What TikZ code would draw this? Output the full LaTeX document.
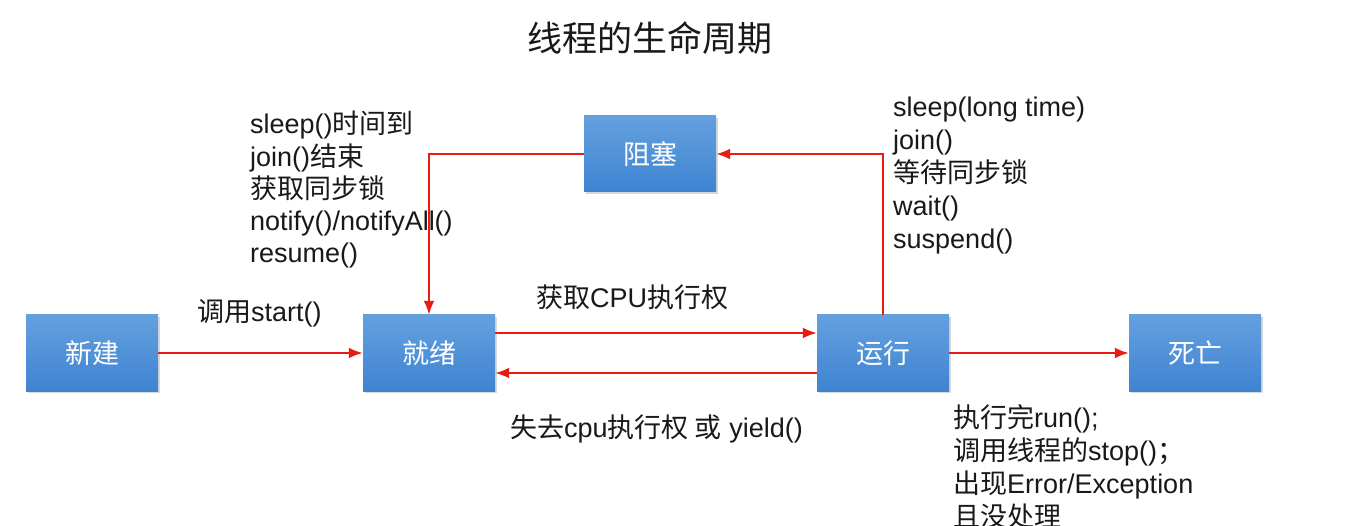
\documentclass[tikz,border=0pt]{standalone}
\usepackage{fontspec}
\setmainfont{Liberation Sans}
\newfontfamily\cjk{Noto Sans CJK SC}
\usetikzlibrary{arrows.meta,shadows}
\newcommand\zh[1]{{\cjk #1}}
\definecolor{boxtop}{RGB}{100,160,222}
\definecolor{boxbot}{RGB}{62,132,210}
\definecolor{arrred}{RGB}{232,28,18}
\definecolor{txt}{RGB}{25,25,25}
\tikzset{
  statebox/.style={rectangle, minimum width=132pt, minimum height=76pt, inner sep=0pt,
    top color=boxtop, bottom color=boxbot, draw=none, text=white,
    font=\cjk\fontsize{27}{30}\selectfont,
    drop shadow={shadow xshift=1.5pt, shadow yshift=-2pt, opacity=0.3}},
  arr/.style={draw=arrred, line width=2.2pt, -{Latex[length=14pt,width=11pt]}},
  lbl/.style={text=txt, inner sep=0pt, font=\fontsize{27}{33}\selectfont},
  block/.style={lbl, align=left, anchor=north west},
}
\begin{document}
\begin{tikzpicture}[x=1pt,y=-1pt]
\useasboundingbox[fill=white] (0,0) rectangle (1356,526);
\node[text=txt, font=\cjk\fontsize{35}{38}\selectfont] (title) at (650,38) {线程的生命周期};

\node[statebox] (new) at (92,353) {新建};
\node[statebox] (ready) at (429,353) {就绪};
\node[statebox] (run) at (883,353) {运行};
\node[statebox] (dead) at (1195,353) {死亡};
\node[statebox] (blk) at (650,154) {阻塞};

\draw[arr] (new) -- (ready);
\draw[arr] ([yshift=20pt]ready.east) -- ([yshift=20pt]run.west);
\draw[arr] ([yshift=-20pt]run.west) -- ([yshift=-20pt]ready.east);
\draw[arr] (run) -- (dead);
\draw[arr] (run.north) |- (blk.east);
\draw[arr] (blk.west) -| (ready.north);

\node[lbl, anchor=west] (lstart) at (197,313) {\zh{调用}start()};
\node[lbl, anchor=west] (lcpu) at (536,297) {\zh{获取}CPU\zh{执行权}};
\node[lbl, anchor=west] (llose) at (510,429) {\zh{失去}cpu\zh{执行权 或} yield()};

\node[block, font=\fontsize{27}{32.3}\selectfont] (lwake) at (250,111) {sleep()\zh{时间到}\\join()\zh{结束}\\\zh{获取同步锁}\\notify()/notifyAll()\\resume()};
\node[block] (lblock) at (893,97) {sleep(long time)\\join()\\\zh{等待同步锁}\\wait()\\suspend()};
\node[block] (ldead) at (953,404) {\zh{执行完}run();\\\zh{调用线程的}stop()\zh{；}\\\zh{出现}Error/Exception\\\zh{且没处理}};
\end{tikzpicture}
\end{document}
